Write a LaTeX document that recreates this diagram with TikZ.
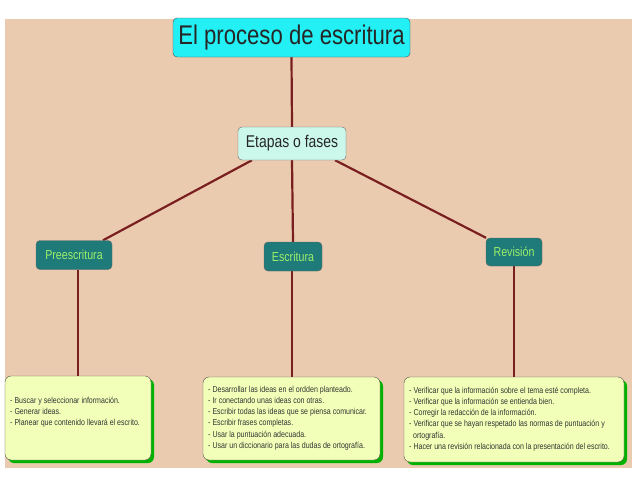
\documentclass[tikz,border=0pt]{standalone}
\usepackage{fontspec}
\setmainfont{Liberation Sans}[FakeStretch=0.82]
\usetikzlibrary{shadows,backgrounds}
\definecolor{bg}{HTML}{EBCBB0}
\definecolor{lnk}{HTML}{7A1F1F}
\definecolor{cyanb}{HTML}{22F0F5}
\definecolor{mint}{HTML}{CCF8EC}
\definecolor{teal}{HTML}{1F7A7A}
\definecolor{lgreen}{HTML}{9CF06A}
\definecolor{yel}{HTML}{F2FFB8}
\tikzset{
 x=1pt,y=-1pt,
 lk/.style={draw=lnk,line width=2.2pt},
 titlebox/.style={draw=black!70,fill=cyanb,rounded corners=4pt,minimum width=237pt,minimum height=39pt,font=\fontsize{27}{30}\selectfont,text=black!85,inner sep=0pt},
 midbox/.style={draw=black!60,fill=mint,rounded corners=4pt,minimum width=108pt,minimum height=33pt,font=\fontsize{17}{19}\selectfont,text=black!85,inner sep=0pt},
 phase/.style={draw=black!60,fill=teal,rounded corners=4pt,minimum height=29pt,text=lgreen,font=\fontsize{13}{15}\selectfont,inner sep=3pt},
 leaf/.style={draw=black!70,fill=yel,rounded corners=6pt,
   drop shadow={shadow xshift=3pt,shadow yshift=-3pt,fill=green!70!black,opacity=1}},
 leaftext/.style={anchor=west,align=left,font=\fontsize{8.6}{11.2}\selectfont,text=black!80,inner sep=0pt},
}
\begin{document}
\begin{tikzpicture}
\useasboundingbox (0,0) rectangle (638,479);
\node[titlebox] (t) at (291.5,37.5) {El proceso de escritura};
\node[midbox] (e) at (292,143.5) {Etapas o fases};
\node[phase,minimum width=76pt] (p) at (74,255) {Preescritura};
\node[phase,minimum width=58pt] (s) at (293,256.5) {Escritura};
\node[phase,minimum width=56pt,minimum height=28pt] (r) at (514,252) {Revisión};
\path[leaf] (5,376) rectangle (151,460);
\path[leaf] (203,377) rectangle (380,460);
\path[leaf] (404,377) rectangle (624,462);
\coordinate (lp) at (78,376);
\coordinate (ls) at (292,377);
\coordinate (lr) at (514,377);
\node[leaftext] (tp) at (10,412) {- Buscar y seleccionar información.\\- Generar ideas.\\- Planear que contenido llevará el escrito.};
\node[leaftext] (ts) at (208,418) {- Desarrollar las ideas en el ordden planteado.\\- Ir conectando unas ideas con otras.\\- Escribir todas las ideas que se piensa comunicar.\\- Escribir frases completas.\\- Usar la puntuación adecuada.\\- Usar un diccionario para las dudas de ortografía.};
\node[leaftext] (tr) at (409,419) {- Verificar que la información sobre el tema esté completa.\\- Verificar que la información se entienda bien.\\- Corregir la redacción de la información.\\- Verificar que se hayan respetado las normas de puntuación y\\\ \ ortografía.\\- Hacer una revisión relacionada con la presentación del escrito.};
\begin{pgfonlayer}{background}
\fill[white] (0,0) rectangle (638,479);
\fill[bg] (5,19) rectangle (632,468);
\draw[lk] (t.south) -- (e.north);
\draw[lk] (e.south) -- (s.north);
\draw[lk] ([xshift=-40pt]e.south) -- ([xshift=29pt]p.north);
\draw[lk] ([xshift=43pt]e.south) -- ([xshift=-28pt]r.north);
\draw[lk] (p.south -| lp) -- (lp);
\draw[lk] (s.south -| ls) -- (ls);
\draw[lk] (r.south) -- (lr);
\end{pgfonlayer}
\end{tikzpicture}
\end{document}
